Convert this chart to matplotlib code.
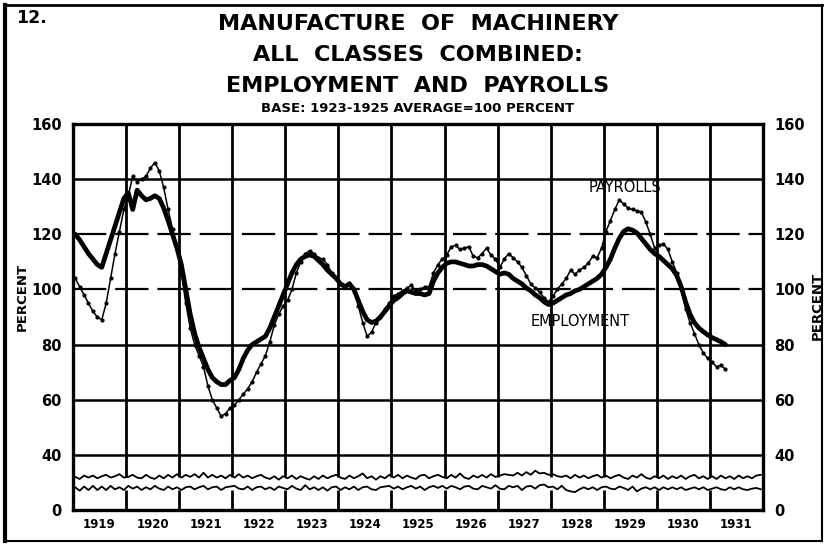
import numpy as np
import matplotlib
matplotlib.use("Agg")
import matplotlib.pyplot as plt
from matplotlib.lines import Line2D

# ---------------- data (monthly, from Jan 1919) ----------------
start_year = 1919
employment = [
    120, 118, 115.5, 113, 111, 109, 108, 113, 118, 123, 128, 133,          # 1919
    135, 129, 136, 134, 132.5, 133, 134, 133, 129.5, 125, 120, 115,        # 1920
    109, 100, 91, 84, 79, 75, 71, 68, 66.5, 65.5, 65.5, 67,                # 1921
    68, 71, 75, 78, 80, 81, 82, 83, 86, 90, 94, 98,                        # 1922
    102, 106, 109, 111, 112, 112.5, 112, 110.5, 109, 107, 105.5, 104,      # 1923
    102, 101, 102, 100, 96, 92, 89, 88, 88.5, 90, 92, 94,                  # 1924
    96, 97, 98.5, 99.5, 99, 98.5, 98.5, 98, 98.5, 103, 106, 108,           # 1925
    109.5, 110, 110, 109.5, 109, 108.5, 108.5, 109, 109, 108.5, 107.5, 106.5,  # 1926
    105.5, 106, 105.5, 104, 103, 102, 100.5, 99.5, 98, 97, 95.5, 94.5,     # 1927
    95, 96, 97, 98, 98.5, 99.5, 100, 101, 102, 103, 104, 105.5,            # 1928
    108, 111, 115, 118.5, 121, 122, 121.5, 120.5, 118.5, 116.5, 114.5, 113,  # 1929
    112, 110.5, 109, 107.5, 105, 101, 95.5, 91, 88, 86, 84.7, 83.5,        # 1930
    82.5, 81.8, 81, 80,                                                    # 1931
]
payrolls = [
    104, 101, 98, 95, 92, 90, 89, 95, 104, 113, 121, 129,                  # 1919
    134, 141, 139, 140, 141, 144, 146, 143, 137, 129, 122, 115,            # 1920
    106, 95, 86, 80, 76, 72, 65, 60, 57, 54, 55, 57,                       # 1921
    58, 60, 62, 64, 66.5, 70, 73, 76, 81, 87, 91, 94,                      # 1922
    96, 100, 106, 110, 113, 114, 113, 111.5, 111, 109, 106, 104,           # 1923
    102, 101, 102.5, 100, 94, 88, 83, 84.5, 88, 90, 93, 95,                # 1924
    97.5, 98.5, 99.5, 100.5, 101.5, 99.5, 100, 101, 101, 106, 109, 111,    # 1925
    112.5, 115.5, 116, 114.5, 115, 115.5, 112, 111.5, 113, 115, 112.5, 111,  # 1926
    108, 111, 113, 111.5, 110, 108, 105, 102, 100.5, 99, 97, 95.5,         # 1927
    97.5, 100, 102, 104, 107, 105.5, 107, 108, 109.5, 112, 111.5, 115,     # 1928
    121, 125, 129, 132.5, 131, 129.5, 129, 128.5, 128, 124.5, 120, 115,    # 1929
    116, 116.5, 114.5, 110, 106, 100, 93, 88, 84, 80, 77, 75,              # 1930
    73.5, 72, 72.5, 71,                                                    # 1931
]
# two small wavy curves drawn in the compressed 0-40 band
upper_band = [
    24, 22.5, 25, 23.5, 25, 23, 24.5, 25.5, 23.5, 24.5, 26, 23.5,
    24, 25.5, 23.5, 23, 25.5, 23.5, 22.5, 25, 23, 25.5, 23.5, 26,
    23.5, 25.5, 24, 26, 23.5, 27, 23.5, 25.5, 23.5, 25, 23, 25.5,
    23.5, 26, 23.5, 25, 23, 24.5, 25.5, 23.5, 22.5, 24.5, 22, 24.5,
    23, 25, 22.5, 24.5, 23, 22, 24.5, 22.5, 25, 23, 24.5, 25.5,
    23.5, 22.5, 25, 23, 24.5, 26.5, 23, 24.5, 22, 24.5, 23, 25.5,
    23.5, 25.5, 23, 25, 23.5, 22.5, 25, 25.5, 23, 24.5, 25.5, 24,
    23, 25.5, 23.5, 26.5, 23.5, 22.5, 25, 23.5, 25.5, 23.5, 26, 24,
    25, 26, 25.5, 25, 27, 25, 27.5, 25.5, 28.5, 26.5, 27, 25.5,
    26, 24.5, 24, 25, 23, 25.5, 23.5, 25, 23, 24.5, 25.5, 23.5,
    25, 23, 24.5, 25.5, 23.5, 22.5, 25, 23.5, 26, 23.5, 22.5, 24.5,
    23, 25, 22.5, 24.5, 23, 25, 22.5, 24.5, 25.5, 23, 24.5, 22.5,
    24.5, 22.5, 25, 23, 24.5, 22.5, 25, 23, 24.5, 23, 25, 25.5,
]
lower_band = [
    16.5, 14, 17, 14.5, 17.5, 14.5, 17, 14.5, 17.5, 15, 16.5, 14.5,
    17.5, 15.5, 17, 14.5, 16.5, 15, 17.5, 15.5, 14.5, 17, 15, 16.5,
    14.5, 16.5, 17, 15, 16.5, 17.5, 15, 16.5, 17, 14.5, 16.5, 17,
    17.5, 15.5, 15, 17, 14.5, 16.5, 17, 15, 16.5, 14.5, 17, 16,
    15, 17.5, 15.5, 14.5, 18, 15, 16.5, 14.5, 16.5, 14, 16.5, 17,
    14.5, 16.5, 15, 17, 14.5, 16.5, 17, 15, 14.5, 16.5, 17, 17.5,
    15.5, 17, 15, 16.5, 17.5, 15.5, 17, 14.5, 16.5, 17.5, 16, 17.5,
    15.5, 17.5, 16.5, 15, 17, 17.5, 15.5, 15, 17.5, 16.5, 15.5, 18,
    15.5, 15, 17.5, 16.5, 17.5, 14.5, 17, 17.5, 15.5, 18, 18.5, 16.5,
    17, 15, 17.5, 14.5, 13.5, 13, 15, 16.5, 15, 16.5, 14.5, 16.5,
    17, 15.5, 15, 17, 16, 14.5, 17, 13.5, 15.5, 16.5, 15, 16.5,
    14.5, 16.5, 15, 16.5, 15, 16.5, 14.5, 15.5, 16.5, 15, 16.5, 14.5,
    15.5, 16.5, 15, 14.5, 16.5, 15, 16.5, 15, 14.5, 15.5, 16, 15,
]
year_labels = [str(y) for y in range(1919, 1932)]
y_ticks = [0, 40, 60, 80, 100, 120, 140, 160]
solid_grid = [40, 60, 80, 140]
dashed_grid = [100, 120]


def month_x(n):
    return start_year + (np.arange(n) + 0.5) / 12.0


# broken scale: 0-40 squeezed into one grid step, 20 units per step above
def fwd(v):
    v = np.asarray(v, dtype=float)
    return np.where(v <= 40, v / 40.0, 1.0 + (v - 40.0) / 20.0)


def inv(u):
    u = np.asarray(u, dtype=float)
    return np.where(u <= 1, u * 40.0, 40.0 + (u - 1.0) * 20.0)


W, H = 827, 547
fig = plt.figure(figsize=(W / 100, H / 100), dpi=100)
fig.patch.set_facecolor("white")
ax = fig.add_axes([73 / W, 1 - 510 / H, 690 / W, 386 / H])
ax.set_yscale("function", functions=(fwd, inv))
ax.set_xlim(1919, 1932)
ax.set_ylim(0, 160)

# grid
for y in solid_grid:
    ax.axhline(y, color="black", lw=1.8, zorder=1)
for y in dashed_grid:
    ax.axhline(y, color="black", lw=1.6, ls=(0, (15, 4)), zorder=1)
years = list(range(1920, 1932))
ax.vlines(years, 0, 14.5, color="black", lw=2.0, zorder=1)
ax.vlines(years, 24, 160, color="black", lw=2.0, zorder=1)

# series
xe = month_x(len(employment))
xp = month_x(len(payrolls))
ax.plot(xp, payrolls, color="black", lw=1.1, marker="o", ms=2.0, zorder=3)
ax.plot(xe, employment, color="black", lw=3.4, solid_joinstyle="round",
        solid_capstyle="round", zorder=4)
xb = month_x(len(upper_band))
ax.plot(xb, upper_band, color="black", lw=1.3, zorder=3)
ax.plot(xb, lower_band, color="black", lw=1.3, zorder=3)

for s in ax.spines.values():
    s.set_linewidth(2.4)

ax.set_yticks(y_ticks)
ax.set_yticklabels([str(t) for t in y_ticks])
ax.tick_params(axis="y", length=0, pad=8, labelsize=10.5, labelright=True)
for lab in ax.get_yticklabels():
    lab.set_fontweight("bold")
ax.set_xticks([y + 0.5 for y in range(1919, 1932)])
ax.set_xticklabels(year_labels)
ax.tick_params(axis="x", length=0, pad=6, labelsize=8.5)
for lab in ax.get_xticklabels():
    lab.set_fontweight("bold")
ax.yaxis.set_minor_locator(matplotlib.ticker.NullLocator())

# series labels
fig.text(625 / W, 1 - 188 / H, "PAYROLLS", ha="center", va="center",
         fontsize=10.5)
fig.text(580 / W, 1 - 321 / H, "EMPLOYMENT", ha="center", va="center",
         fontsize=10.5)

# axis titles
fig.text(22 / W, 1 - 297 / H, "PERCENT", rotation=90, ha="center",
         va="center", fontsize=9.5, fontweight="bold")
fig.text(817 / W, 1 - 306 / H, "PERCENT", rotation=90, ha="center",
         va="center", fontsize=9.5, fontweight="bold")

# titles
fig.text(16 / W, 1 - 18 / H, "12.", ha="left", va="center", fontsize=12.5,
         fontweight="bold")
fig.text(418 / W, 1 - 24 / H, "MANUFACTURE  OF  MACHINERY", ha="center",
         va="center", fontsize=16, fontweight="bold")
fig.text(418 / W, 1 - 55 / H, "ALL  CLASSES  COMBINED:", ha="center",
         va="center", fontsize=16, fontweight="bold")
fig.text(418 / W, 1 - 86 / H, "EMPLOYMENT  AND  PAYROLLS", ha="center",
         va="center", fontsize=16, fontweight="bold")
fig.text(418 / W, 1 - 109 / H, "BASE: 1923-1925 AVERAGE=100 PERCENT",
         ha="center", va="center", fontsize=9.5, fontweight="bold")

# outer frame
frame_lines = [
    ((5, 5), (5, 541), 3.0),
    ((5, 822), (5, 5), 2.0),
    ((822, 822), (5, 541), 1.5),
    ((5, 822), (541, 541), 1.5),
]
for xs, ys, lw in frame_lines:
    fig.add_artist(Line2D([x / W for x in xs], [1 - y / H for y in ys],
                          transform=fig.transFigure, color="black", lw=lw))

fig.savefig("out.png", dpi=100, facecolor="white")
